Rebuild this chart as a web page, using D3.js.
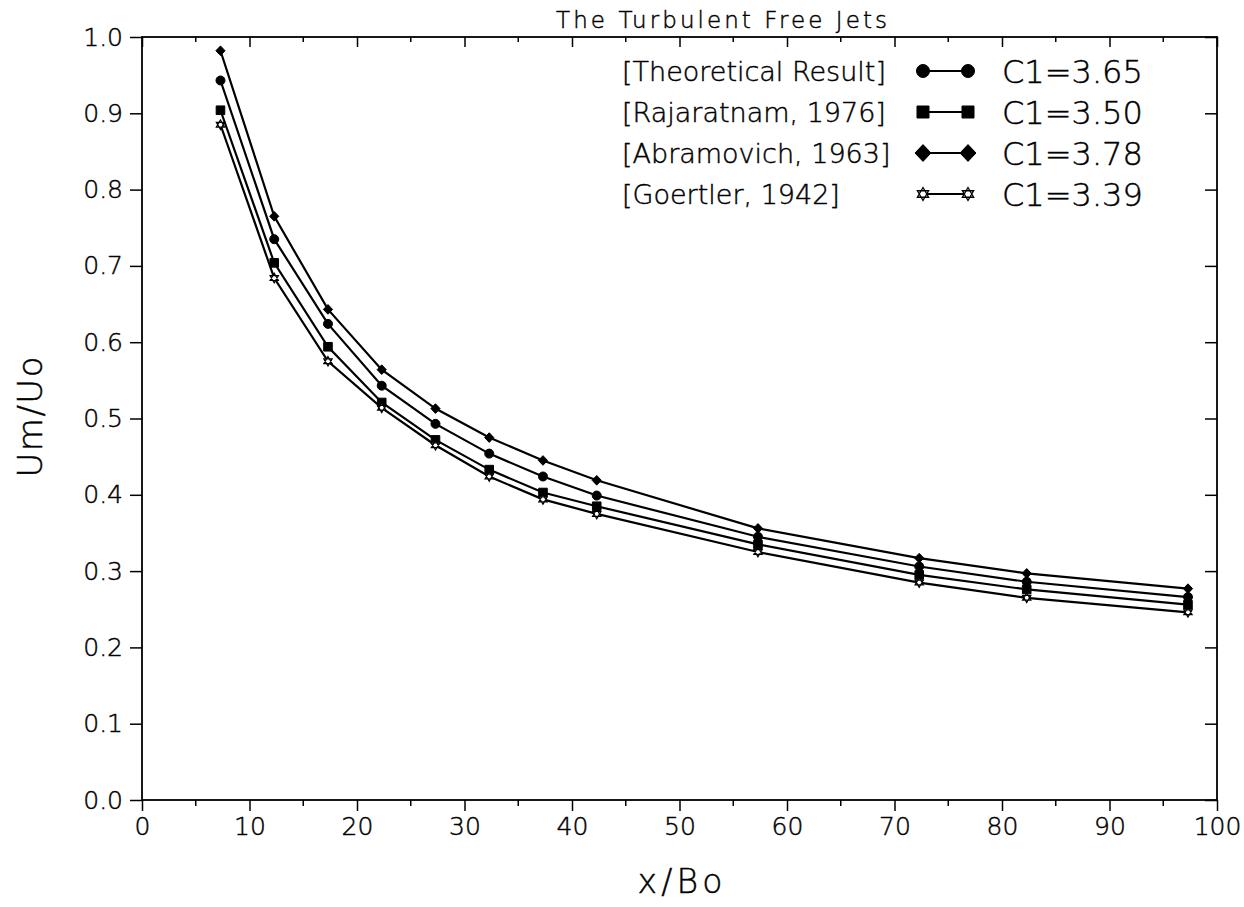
<!DOCTYPE html>
<html>
<head>
<meta charset="utf-8">
<script src="https://cdn.jsdelivr.net/npm/d3@7"></script>
<style>
  html, body { margin: 0; padding: 0; background: #fff; }
  svg { display: block; }
  text { font-family: "DejaVu Sans", "Liberation Sans", sans-serif; font-weight: 200; fill: #000; stroke: #000; stroke-width: 0.45px; }
  .tick text { font-size: 25px; }
</style>
</head>
<body>
<svg id="chart" width="1244" height="907"></svg>
<script>
// Centre-line velocity decay of plane turbulent free jets
const xPositions = [7.3, 12.3, 17.3, 22.3, 27.3, 32.3, 37.3, 42.3, 57.3, 72.3, 82.3, 97.3];
const theoretical = [0.943, 0.735, 0.624, 0.543, 0.493, 0.454, 0.424, 0.399, 0.345, 0.306, 0.286, 0.266];
const rajaratnam  = [0.904, 0.704, 0.594, 0.521, 0.472, 0.433, 0.403, 0.385, 0.335, 0.295, 0.276, 0.256];
const abramovich  = [0.982, 0.765, 0.643, 0.564, 0.513, 0.475, 0.445, 0.419, 0.356, 0.317, 0.297, 0.277];
const goertler    = [0.885, 0.684, 0.575, 0.514, 0.465, 0.424, 0.394, 0.375, 0.325, 0.285, 0.265, 0.246];

const seriesNames = ["[Theoretical Result]", "[Rajaratnam, 1976]", "[Abramovich, 1963]", "[Goertler, 1942]"];
const seriesC1 = ["C1=3.65", "C1=3.50", "C1=3.78", "C1=3.39"];
const seriesMarkers = ["circle", "square", "diamond", "star"];
const seriesValues = [theoretical, rajaratnam, abramovich, goertler];

const xTicks = [0, 10, 20, 30, 40, 50, 60, 70, 80, 90, 100];
const xMinorTicks = [5, 15, 25, 35, 45, 55, 65, 75, 85, 95];
const yTicks = [0.0, 0.1, 0.2, 0.3, 0.4, 0.5, 0.6, 0.7, 0.8, 0.9, 1.0];

const svg = d3.select("#chart");
const plotLeft = 142, plotRight = 1217, plotTop = 37, plotBottom = 800;

const x = d3.scaleLinear().domain([0, 100]).range([plotLeft, plotRight]);
const y = d3.scaleLinear().domain([0, 1]).range([plotBottom, plotTop]);

// marker path builders, centred on the origin
function markerPath(type, s) {
  const p = d3.path();
  if (type === "circle") {
    p.arc(0, 0, s, 0, 2 * Math.PI);
  } else if (type === "square") {
    p.rect(-s, -s, 2 * s, 2 * s);
  } else if (type === "diamond") {
    p.moveTo(0, -s * 1.05); p.lineTo(s, 0); p.lineTo(0, s * 1.05); p.lineTo(-s, 0); p.closePath();
  } else if (type === "star") {
    for (const rot of [-Math.PI / 2, Math.PI / 2]) {
      for (let k = 0; k < 3; k++) {
        const a = rot + k * 2 * Math.PI / 3;
        const px = s * Math.cos(a), py = s * Math.sin(a);
        if (k === 0) p.moveTo(px, py); else p.lineTo(px, py);
      }
      p.closePath();
    }
  }
  return p.toString();
}
function markerFill(type) { return type === "star" ? "#fff" : "#000"; }

// axes
const axisG = svg.append("g");
const bottomAxis = d3.axisBottom(x).tickValues(xTicks).tickFormat(d3.format("d")).tickSize(11).tickPadding(6);
const gB = axisG.append("g").attr("transform", `translate(0,${plotBottom})`).call(bottomAxis);
gB.append("g").selectAll("line").data(xMinorTicks).join("line")
  .attr("x1", d => x(d)).attr("x2", d => x(d)).attr("y1", 0).attr("y2", 6);

const leftAxis = d3.axisLeft(y).tickValues(yTicks).tickFormat(d3.format(".1f")).tickSize(12).tickPadding(7);
axisG.append("g").attr("transform", `translate(${plotLeft},0)`).call(leftAxis);

const topAxis = d3.axisBottom(x).tickValues(xTicks).tickFormat("").tickSize(10);
const gT = axisG.append("g").attr("transform", `translate(0,${plotTop})`).call(topAxis);
gT.append("g").selectAll("line").data(xMinorTicks).join("line")
  .attr("x1", d => x(d)).attr("x2", d => x(d)).attr("y1", 0).attr("y2", 5);

const rightAxis = d3.axisLeft(y).tickValues(yTicks).tickFormat("").tickSize(12);
axisG.append("g").attr("transform", `translate(${plotRight},0)`).call(rightAxis);

axisG.selectAll(".domain").remove();
axisG.selectAll("g").attr("font-family", null).attr("font-size", null);
axisG.selectAll("line").attr("stroke", "#000").attr("stroke-width", 1.5);
axisG.selectAll(".tick text").style("fill", "#000");

// frame
axisG.append("rect").attr("x", plotLeft).attr("y", plotTop)
  .attr("width", plotRight - plotLeft).attr("height", plotBottom - plotTop)
  .attr("fill", "none").attr("stroke", "#000").attr("stroke-width", 1.8);

// series
const line = d3.line().x(d => x(d[0])).y(d => y(d[1]));
const plotG = svg.append("g");
seriesValues.forEach((vals) => {
  const pts = xPositions.map((xv, j) => [xv, vals[j]]);
  plotG.append("path").datum(pts).attr("d", line)
    .attr("fill", "none").attr("stroke", "#000").attr("stroke-width", 2.2);
});
const markerSize = { circle: 4.5, square: 4.3, diamond: 4.6, star: 4.8 };
seriesValues.forEach((vals, i) => {
  const type = seriesMarkers[i];
  plotG.append("g").selectAll("path").data(xPositions.map((xv, j) => [xv, vals[j]])).join("path")
    .attr("transform", d => `translate(${x(d[0])},${y(d[1])})`)
    .attr("d", markerPath(type, markerSize[type]))
    .attr("fill", markerFill(type)).attr("stroke", "#000").attr("stroke-width", type === "star" ? 1.2 : 1);
});

// legend
const legendRows = [71, 112, 153, 194];
const legendSize = { circle: 6.5, square: 6, diamond: 8, star: 6.5 };
const lg = svg.append("g");
seriesNames.forEach((name, i) => {
  const cy = legendRows[i];
  const type = seriesMarkers[i];
  lg.append("text").attr("x", 622).attr("y", cy + 10).attr("font-size", 27).text(name);
  lg.append("line").attr("x1", 923).attr("x2", 968).attr("y1", cy).attr("y2", cy)
    .attr("stroke", "#000").attr("stroke-width", 1.8);
  [923, 968].forEach(mx => {
    lg.append("path").attr("transform", `translate(${mx},${cy})`)
      .attr("d", markerPath(type, legendSize[type]))
      .attr("fill", markerFill(type)).attr("stroke", "#000").attr("stroke-width", type === "star" ? 1.3 : 1);
  });
  lg.append("text").attr("x", 1002).attr("y", cy + 12).attr("font-size", 32).text(seriesC1[i]);
});

// titles
svg.append("text").attr("x", 556).attr("y", 28).attr("font-size", 23)
  .attr("textLength", 331).attr("lengthAdjust", "spacing").text("The Turbulent Free Jets");
svg.append("text").attr("x", 680).attr("y", 893).attr("text-anchor", "middle").attr("font-size", 33)
  .attr("textLength", 85).attr("lengthAdjust", "spacing").text("x/Bo");
svg.append("text").attr("transform", "translate(42,417) rotate(-90)").attr("text-anchor", "middle")
  .attr("font-size", 34).attr("textLength", 121).attr("lengthAdjust", "spacing").text("Um/Uo");
</script>
</body>
</html>
